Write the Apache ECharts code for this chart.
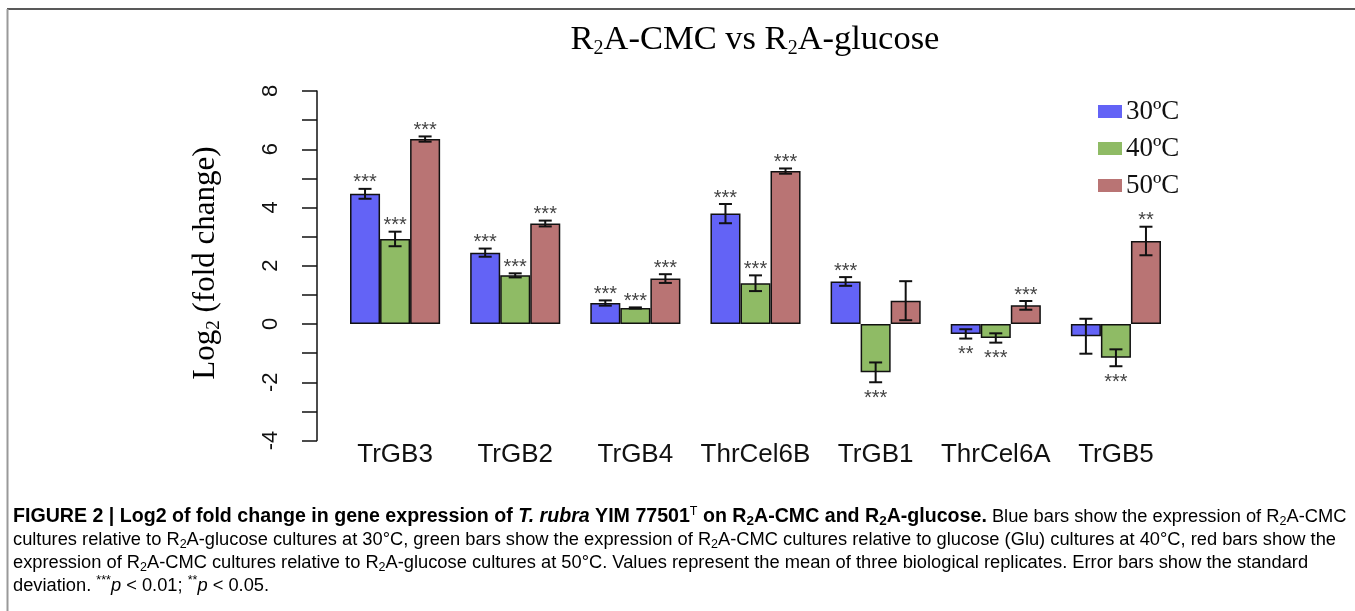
<!DOCTYPE html>
<html>
<head>
<meta charset="utf-8">
<script src="https://cdn.jsdelivr.net/npm/echarts@6/dist/echarts.min.js"></script>
<style>
html,body{margin:0;padding:0;background:#fff;}
#chart{width:1355px;height:611px;}
</style>
</head>
<body>
<div id="chart"></div>
<script>
// ---- data ----
const categories = ['TrGB3', 'TrGB2', 'TrGB4', 'ThrCel6B', 'TrGB1', 'ThrCel6A', 'TrGB5'];
const seriesNames = ['30ºC', '40ºC', '50ºC'];
const mean30 = [4.47, 2.45, 0.72, 3.79, 1.46, -0.34, -0.42];
const sd30   = [0.17, 0.14, 0.09, 0.33, 0.15, 0.16, 0.60];
const sig30  = ['***', '***', '***', '***', '***', '**', ''];
const mean40 = [2.92, 1.67, 0.55, 1.40, -1.66, -0.48, -1.16];
const sd40   = [0.25, 0.07, 0.02, 0.27, 0.34, 0.16, 0.29];
const sig40  = ['***', '***', '***', '***', '***', '***', '***'];
const mean50 = [6.35, 3.45, 1.56, 5.25, 0.80, 0.64, 2.85];
const sd50   = [0.09, 0.10, 0.15, 0.09, 0.67, 0.15, 0.49];
const sig50  = ['***', '***', '***', '***', '', '***', '**'];
const yMin = -4, yMax = 8, yStep = 1;
const yLabelTicks = [-4, -2, 0, 2, 4, 6, 8];

const colors = ['#6363F6', '#8FBB65', '#B97474'];
const means = [mean30, mean40, mean50];
const sds = [sd30, sd40, sd50];
const sigs = [sig30, sig40, sig50];

const chart = echarts.init(document.getElementById('chart'), null, {renderer: 'canvas'});

function makeErr(si) {
  return {
    type: 'custom',
    z: 5,
    data: categories.map((c, i) => [i, means[si][i], sds[si][i]]),
    encode: {x: 0, y: 1},
    renderItem: function (params, api) {
      const ci = api.value(0), m = api.value(1), sd = api.value(2);
      const band = api.size([1, 0])[0];
      const off = (si - 1) * band * 0.25;
      const x = api.coord([ci, m])[0] + off;
      const yt = api.coord([ci, m + sd])[1];
      const yb = api.coord([ci, m - sd])[1];
      const cap = 6.5;
      const ls = {stroke: '#111', lineWidth: 2};
      const children = [
        {type: 'line', shape: {x1: x, y1: yt, x2: x, y2: yb}, style: ls},
        {type: 'line', shape: {x1: x - cap, y1: yt, x2: x + cap, y2: yt}, style: ls},
        {type: 'line', shape: {x1: x - cap, y1: yb, x2: x + cap, y2: yb}, style: ls}
      ];
      const lab = sigs[si][params.dataIndex];
      if (lab) {
        const ty = m >= 0 ? yt - 11 : yb + 11;
        children.push({
          type: 'text',
          style: {
            text: lab, x: x, y: ty + 5,
            align: 'center', verticalAlign: 'middle',
            font: '20px "Liberation Sans", Arial, sans-serif',
            fill: '#444'
          }
        });
      }
      return {type: 'group', children: children};
    }
  };
}

const barSeries = seriesNames.map((n, si) => ({
  name: n,
  type: 'bar',
  data: means[si],
  barGap: '0%',
  barCategoryGap: '25%',
  itemStyle: {color: colors[si], borderColor: '#111', borderWidth: 1.5},
  z: 2
}));

const serif = '"Liberation Serif", "Times New Roman", serif';
const sans = '"Liberation Sans", Arial, Helvetica, sans-serif';

const fs = 18.3, fss = 12.5, fb = 19.6, fbs = 13.5;
const capRich = {
  b: {fontFamily: sans, fontWeight: 'bold', fontSize: fb, color: '#222', lineHeight: 23},
  bi: {fontFamily: sans, fontWeight: 'bold', fontStyle: 'italic', fontSize: fb, color: '#222', lineHeight: 23},
  bsub: {fontFamily: sans, fontWeight: 'bold', fontSize: fbs, color: '#222', verticalAlign: 'bottom', lineHeight: 12},
  bsup: {fontFamily: sans, fontWeight: 'normal', fontSize: fss, color: '#222', verticalAlign: 'top', lineHeight: 12},
  n: {fontFamily: sans, fontSize: fs, color: '#4a4a4a', lineHeight: 23},
  ni: {fontFamily: sans, fontStyle: 'italic', fontSize: fs, color: '#4a4a4a', lineHeight: 23},
  nsub: {fontFamily: sans, fontSize: fss, color: '#4a4a4a', verticalAlign: 'bottom', lineHeight: 12},
  nsup: {fontFamily: sans, fontSize: fss, color: '#4a4a4a', verticalAlign: 'top', lineHeight: 12}
};

const capLines = [
  '{b|FIGURE 2 | Log2 of fold change in gene expression of }{bi|T. rubra}{b| YIM 77501}{bsup|T}{b| on R}{bsub|2}{b|A-CMC and R}{bsub|2}{b|A-glucose.}{n| Blue bars show the expression of R}{nsub|2}{n|A-CMC}',
  '{n|cultures relative to R}{nsub|2}{n|A-glucose cultures at 30°C, green bars show the expression of R}{nsub|2}{n|A-CMC cultures relative to glucose (Glu) cultures at 40°C, red bars show the}',
  '{n|expression of R}{nsub|2}{n|A-CMC cultures relative to R}{nsub|2}{n|A-glucose cultures at 50°C. Values represent the mean of three biological replicates. Error bars show the standard}',
  '{n|deviation. }{nsup|***}{ni|p}{n| < 0.01; }{nsup|**}{ni|p}{n| < 0.05.}'
];

const graphics = [
  {type: 'line', shape: {x1: 7, y1: 9, x2: 1355, y2: 9}, style: {stroke: '#222', lineWidth: 1.5}, silent: true},
  {type: 'line', shape: {x1: 7.5, y1: 9, x2: 7.5, y2: 611}, style: {stroke: '#999', lineWidth: 2}, silent: true},
  {
    type: 'text', x: 755, y: 40,
    style: {
      text: '{m|R}{s|2}{m|A-CMC vs R}{s|2}{m|A-glucose}',
      align: 'center', verticalAlign: 'middle',
      rich: {
        m: {fontFamily: serif, fontSize: 34.5, color: '#111', lineHeight: 38},
        s: {fontFamily: serif, fontSize: 20, color: '#111', verticalAlign: 'bottom', lineHeight: 20}
      }
    }
  },
  {
    type: 'text', x: 206, y: 263, rotation: Math.PI / 2,
    style: {
      text: '{m|Log}{s|2}{m| (fold change)}',
      align: 'center', verticalAlign: 'middle',
      rich: {
        m: {fontFamily: serif, fontSize: 31, color: '#111', lineHeight: 36},
        s: {fontFamily: serif, fontSize: 19, color: '#111', verticalAlign: 'bottom', lineHeight: 19}
      }
    }
  }
];
capLines.forEach((t, i) => {
  graphics.push({
    type: 'text', x: 13, y: 517 + i * 23,
    style: {text: t, align: 'left', verticalAlign: 'middle', rich: capRich}
  });
});

const option = {
  animation: false,
  backgroundColor: '#fff',
  grid: {left: 335, right: 179, top: 91, bottom: 170.5, containLabel: false, outerBoundsMode: 'none'},
  legend: {
    data: seriesNames,
    orient: 'vertical',
    left: 1093, top: 93,
    itemWidth: 24, itemHeight: 13, itemGap: 10,
    icon: 'rect',
    itemStyle: {borderWidth: 0},
    textStyle: {fontFamily: serif, fontSize: 27, color: '#111', lineHeight: 27, padding: [0, 0, 0, -1]}
  },
  xAxis: {
    type: 'category',
    data: categories,
    axisLine: {show: false, onZero: false},
    axisTick: {show: false},
    axisLabel: {fontFamily: sans, fontSize: 26, color: '#111', margin: 1, interval: 0}
  },
  yAxis: {
    type: 'value',
    min: yMin, max: yMax, interval: yStep,
    offset: 18,
    splitLine: {show: false},
    axisLine: {show: true, lineStyle: {color: '#111', width: 1.5}},
    axisTick: {show: true, length: 15, lineStyle: {color: '#111', width: 1.5}},
    axisLabel: {
      rotate: 90, margin: 35, fontFamily: sans, fontSize: 22, color: '#111',
      formatter: v => (yLabelTicks.indexOf(v) >= 0 ? String(v) : '')
    }
  },
  series: barSeries.concat([makeErr(0), makeErr(1), makeErr(2)]),
  graphic: graphics
};
chart.setOption(option);
</script>
</body>
</html>
